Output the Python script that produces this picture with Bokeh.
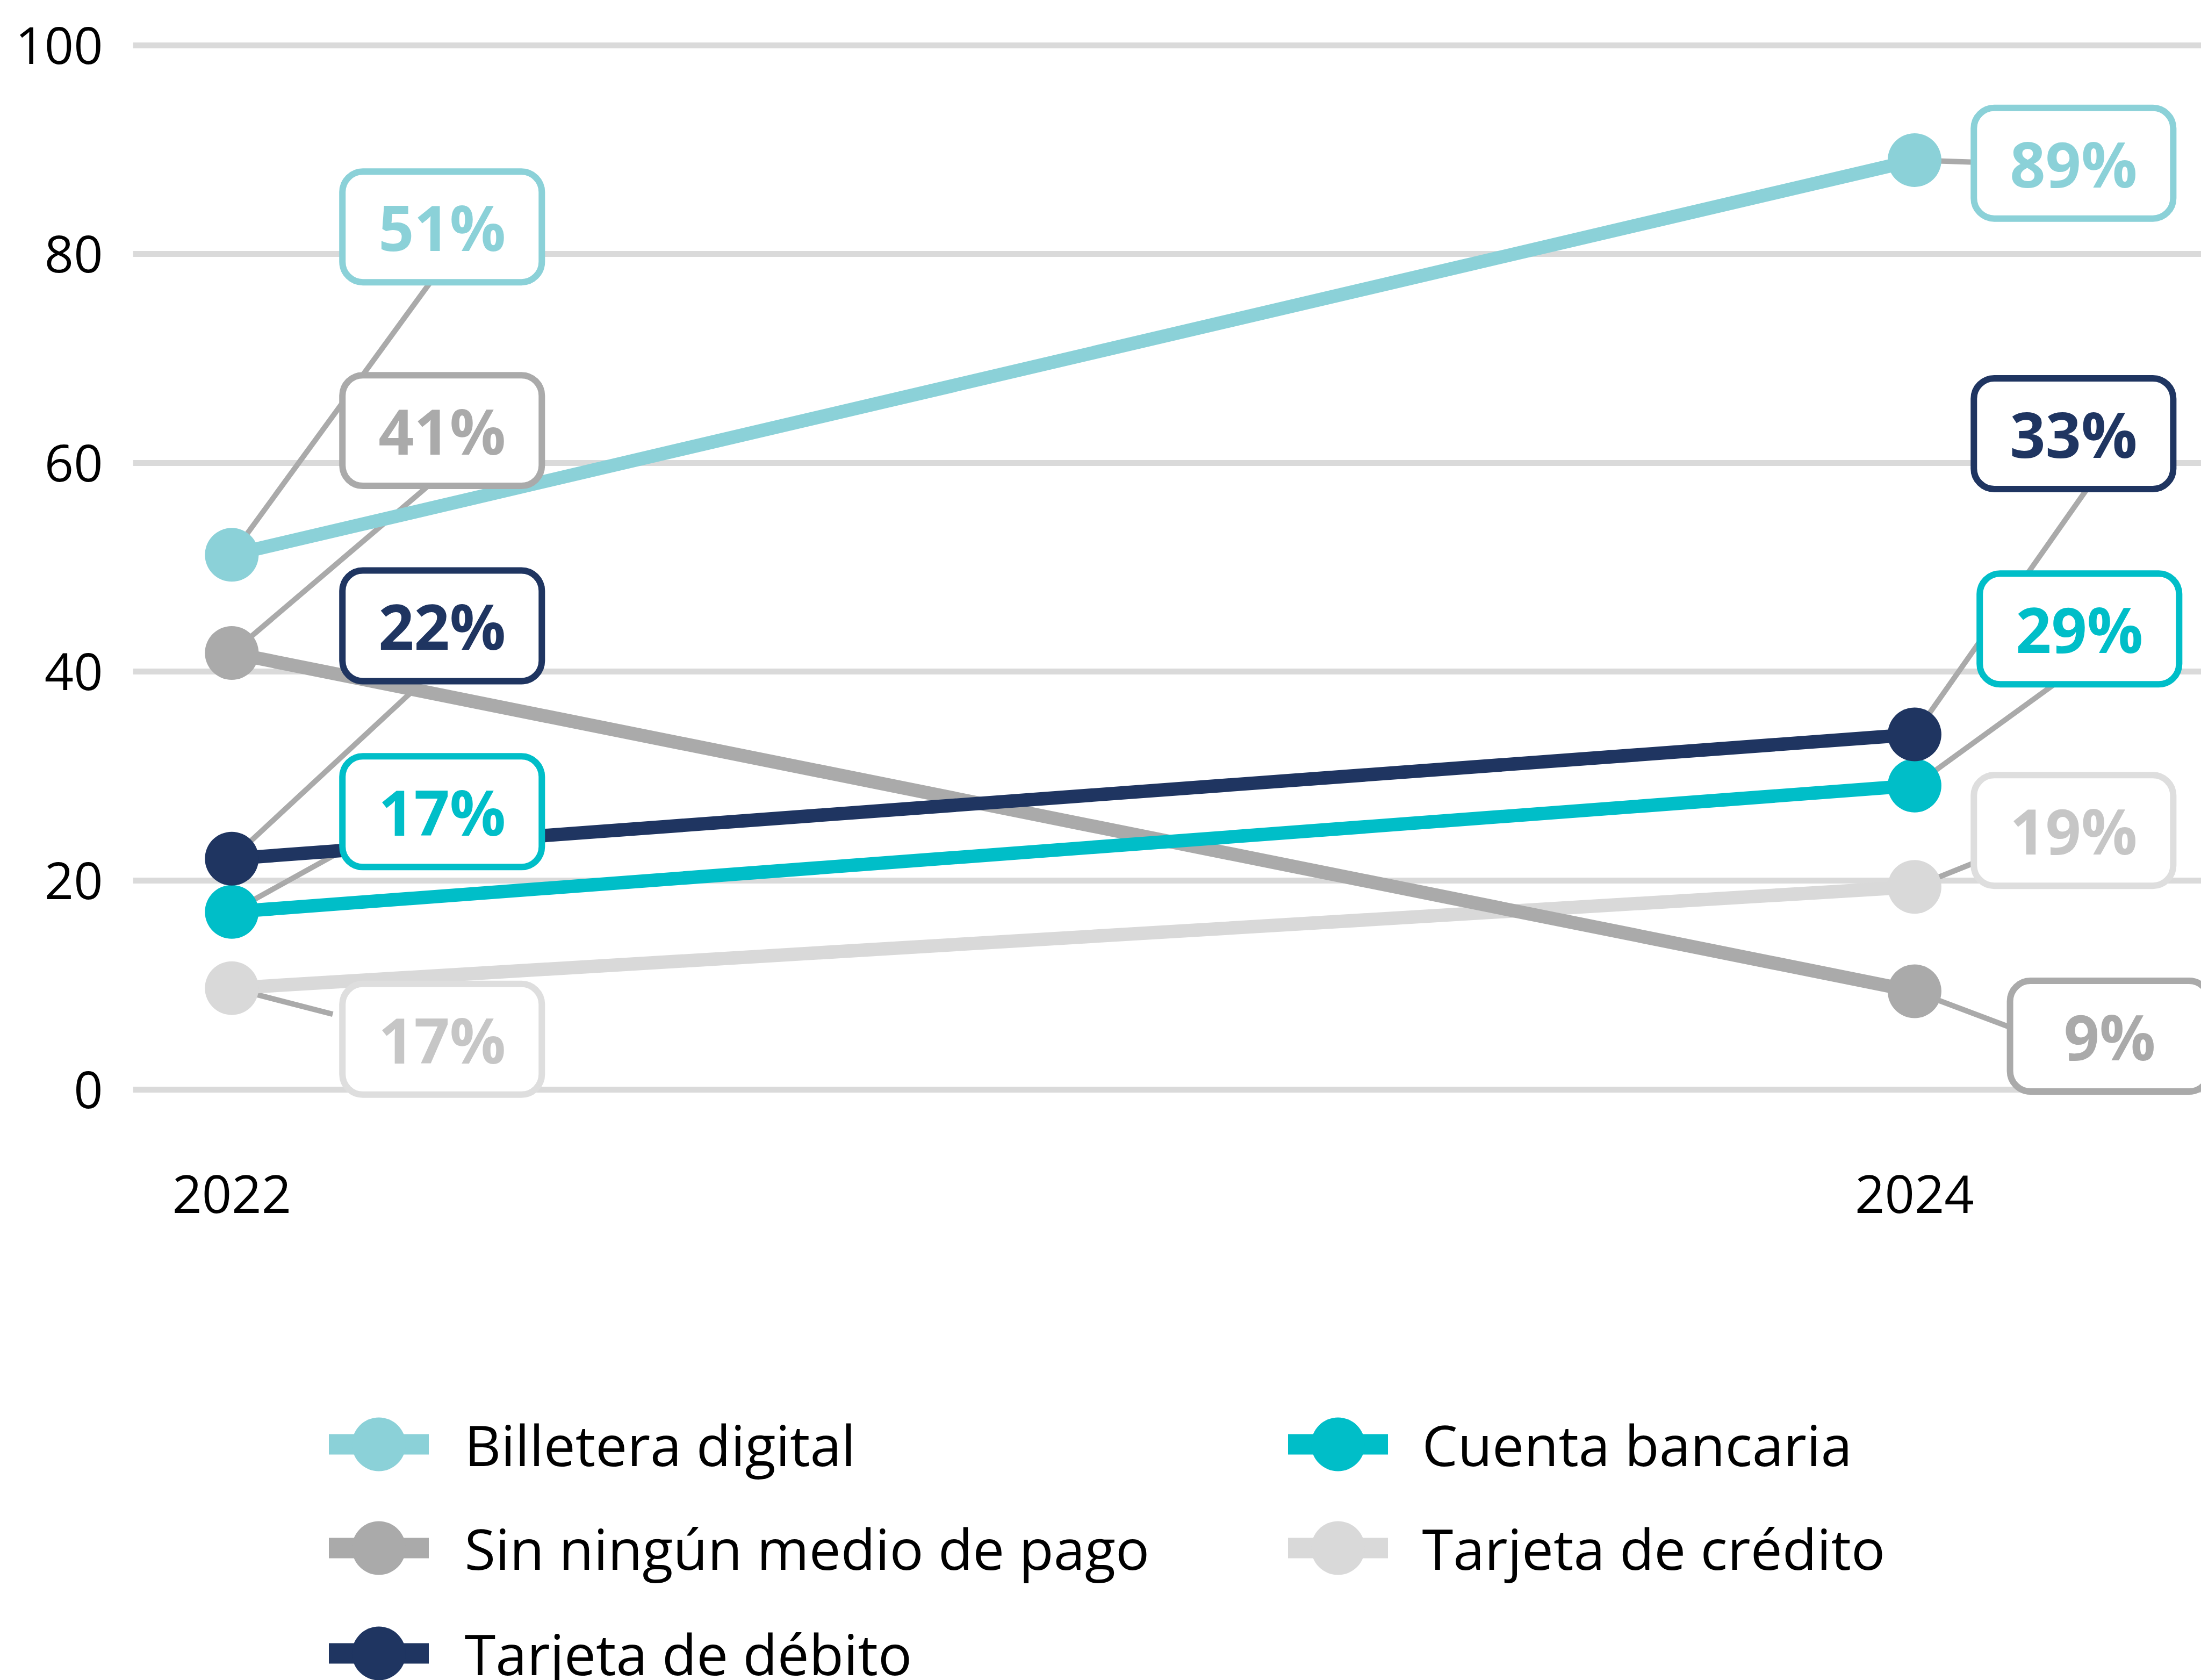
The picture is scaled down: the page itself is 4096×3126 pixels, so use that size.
from bokeh.plotting import figure
from bokeh.layouts import column
from bokeh.models import ColumnDataSource, Range1d, FixedTicker
from bokeh.core.properties import value
from bokeh.embed import file_html
from bokeh.resources import INLINE

# ---------------- data ----------------
years = [2022, 2024]
x_tick_labels = ["2022", "2024"]
y_ticks = [0, 20, 40, 60, 80, 100]

series = ["Billetera digital", "Sin ningún medio de pago", "Tarjeta de débito",
          "Cuenta bancaria", "Tarjeta de crédito"]
billetera = [51.2, 89.0]
sin_medio = [41.8, 9.4]
debito = [22.1, 34.0]
cuenta = [17.0, 29.1]
credito = [9.7, 19.4]
values = [billetera, sin_medio, debito, cuenta, credito]

labels_2022 = ["51%", "41%", "22%", "17%", "17%"]
labels_2024 = ["89%", "9%", "33%", "29%", "19%"]

legend_order = ["Billetera digital", "Cuenta bancaria", "Sin ningún medio de pago",
                "Tarjeta de crédito", "Tarjeta de débito"]

# ---------------- styles / layout ----------------
line_colors = ["#8bd1d8", "#aaaaaa", "#1f3561", "#00bec8", "#d9d9d9"]
label_text_colors = ["#8bd1d8", "#aaaaaa", "#1f3561", "#00bec8", "#c6c6c6"]
label_box_colors = ["#8bd1d8", "#aaaaaa", "#1f3561", "#00bec8", "#dedede"]

# label box centres (layout positions, data units)
lab22_x = [2022.25] * 5
lab22_y = [82.6, 63.1, 44.4, 26.6, 4.8]
lab24_x = [2024.189, 2024.232, 2024.189, 2024.196, 2024.189]
lab24_y = [88.7, 5.1, 62.8, 44.1, 24.8]
# leader line end points (layout positions, data units)
lead22_x = [2022.236, 2022.232, 2022.2235, 2022.121, 2022.120]
lead22_y = [77.3, 57.7, 38.8, 22.4, 7.2]
lead24_x = [2024.071, 2024.112, 2024.205, 2024.166, 2024.071]
lead24_y = [88.8, 6.0, 57.5, 38.8, 21.7]
BOX_W = 0.237
BOX_H = 10.6

FONT = "Open Sans"
W = 4096
H1 = 2340
H2 = 3126 - H1
LEFT = 247

p = figure(width=W, height=H1,
           x_range=Range1d(2021.8826, 2024.3408), y_range=Range1d(-4.807, 104.308),
           output_backend="svg", toolbar_location=None,
           min_border_left=LEFT, min_border_right=0, min_border_top=0, min_border_bottom=220)
p.outline_line_color = None
p.background_fill_color = "white"
p.border_fill_color = "white"
p.xgrid.visible = False
p.ygrid.ticker = FixedTicker(ticks=y_ticks)
p.ygrid.grid_line_color = "#dadada"
p.ygrid.grid_line_width = 11
p.yaxis.ticker = FixedTicker(ticks=y_ticks)
p.xaxis.ticker = FixedTicker(ticks=years)
p.xaxis.major_label_overrides = {yr: lab for yr, lab in zip(years, x_tick_labels)}
for ax in p.axis:
    ax.axis_line_color = None
    ax.major_tick_line_color = None
    ax.minor_tick_line_color = None
    ax.major_label_text_font = FONT
    ax.major_label_text_color = "#000000"
p.xaxis.major_label_text_font_size = "97px"
p.yaxis.major_label_text_font_size = "95px"
p.yaxis.major_label_standoff = 50
p.xaxis.major_label_standoff = 60

# leader lines
x0s, y0s, x1s, y1s = [], [], [], []
for i, v in enumerate(values):
    x0s += [years[0], years[1]]
    y0s += [v[0], v[1]]
    x1s += [lead22_x[i], lead24_x[i]]
    y1s += [lead22_y[i], lead24_y[i]]
p.segment(x0=x0s, y0=y0s, x1=x1s, y1=y1s, line_color="#aaaaaa", line_width=10)

# series lines and dots (lighter ones first)
draw_order = [4, 1, 0, 3, 2]
for i in draw_order:
    src = ColumnDataSource(dict(x=years, y=values[i]))
    p.line("x", "y", source=src, line_color=line_colors[i], line_width=25)
    p.scatter("x", "y", source=src, size=100, marker="circle",
              fill_color=line_colors[i], line_color=None)

# label boxes
lx = lab22_x + lab24_x
ly = lab22_y + lab24_y
ltext = labels_2022 + labels_2024
lcol = label_text_colors + label_text_colors
bcol = label_box_colors + label_box_colors
box_src = ColumnDataSource(dict(
    left=[x - BOX_W / 2 for x in lx], right=[x + BOX_W / 2 for x in lx],
    top=[y + BOX_H / 2 for y in ly], bottom=[y - BOX_H / 2 for y in ly],
    x=lx, y=ly, text=ltext, tc=lcol, bc=bcol))
p.quad(left="left", right="right", top="top", bottom="bottom", source=box_src,
       fill_color="white", line_color="bc", line_width=12, border_radius=38)
p.text(x="x", y="y", text="text", source=box_src, text_color="tc",
       text_align="center", text_baseline="middle",
       text_font=value(FONT), text_font_style="bold", text_font_size="116px")

# ---------------- legend figure (screen-pixel coordinates) ----------------
p2 = figure(width=W, height=H2, x_range=Range1d(LEFT, W), y_range=Range1d(H2, 0),
            output_backend="svg", toolbar_location=None,
            x_axis_location=None, y_axis_location=None,
            min_border_left=LEFT, min_border_right=0, min_border_top=0, min_border_bottom=0)
p2.outline_line_color = None
p2.xgrid.visible = False
p2.ygrid.visible = False

col_glyph_left = [611.5, 2396.5]
col_text_left = [864, 2646]
row_y = [347, 540, 736]
GLYPH_W = 186
gx0, gx1, gcx, gy, tx, tcol, names = [], [], [], [], [], [], []
for k, name in enumerate(legend_order):
    c, r = k % 2, k // 2
    i = series.index(name)
    gx0.append(col_glyph_left[c])
    gx1.append(col_glyph_left[c] + GLYPH_W)
    gcx.append(col_glyph_left[c] + GLYPH_W / 2)
    gy.append(row_y[r])
    tx.append(col_text_left[c])
    tcol.append(line_colors[i])
    names.append(name)
leg = ColumnDataSource(dict(x0=gx0, x1=gx1, cx=gcx, y=gy, tx=tx, c=tcol, name=names))
p2.segment(x0="x0", y0="y", x1="x1", y1="y", source=leg, line_color="c", line_width=38)
p2.scatter("cx", "y", source=leg, size=100, marker="circle", fill_color="c", line_color=None)
p2.text(x="tx", y="y", text="name", source=leg, text_color="#000000",
        text_align="left", text_baseline="middle",
        text_font=value(FONT), text_font_size="105px")

layout = column(p, p2, spacing=0)
open("out.html", "w").write(file_html(layout, INLINE))
